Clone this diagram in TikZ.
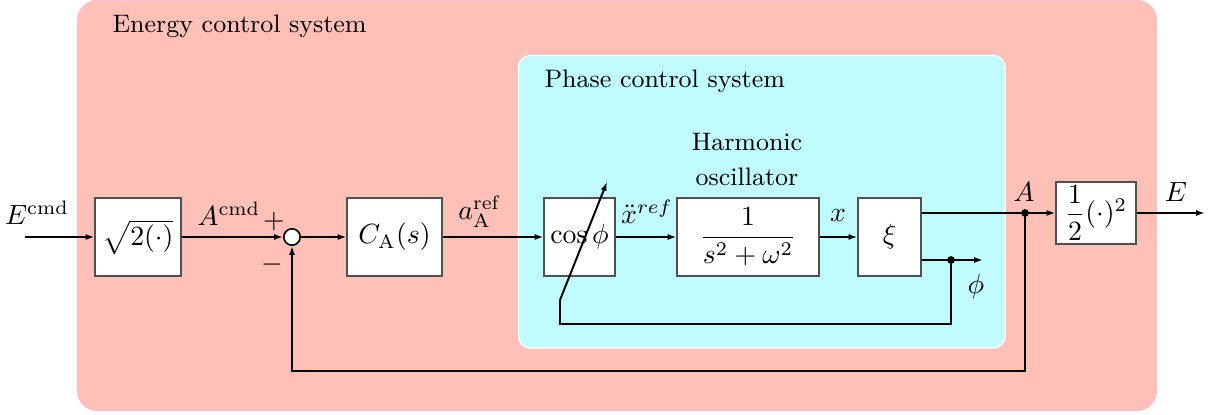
\documentclass[tikz,border=0pt]{standalone}
\usepackage{amsmath}
\usetikzlibrary{arrows.meta}
\definecolor{salmonbg}{RGB}{255,193,183}
\definecolor{pinkedge}{RGB}{255,192,203}
\definecolor{cyanbg}{RGB}{191,251,255}
\definecolor{boxedge}{RGB}{80,80,80}
\tikzset{
  blockbox/.style={draw=boxedge, line width=0.4pt, fill=white, inner sep=0pt, minimum height=28.08pt},
  sig/.style={line width=0.7pt, -{Latex[length=3.2pt,width=2.2pt]}},
  wire/.style={line width=0.7pt},
  lbl/.style={inner sep=0pt},
  ttl/.style={inner sep=0pt, font=\fontsize{9.1}{12.6}\selectfont},
  dotj/.style={circle, fill=black, inner sep=0pt, minimum size=2.8pt}
}
\begin{document}
\begin{tikzpicture}[x=0.36pt,y=-0.36pt]
\useasboundingbox (0,0) rectangle (1225,415);
% backgrounds
\draw[draw=pinkedge, fill=salmonbg, line width=0.5pt, rounded corners=7.2pt] (77.5,0.5) rectangle (1156.5,410.5);
\draw[draw=white, fill=cyanbg, line width=0.5pt, rounded corners=4.3pt] (518.5,55.5) rectangle (1005,348);
\node[ttl, anchor=base west] (tE) at (112,33) {Energy control system};
\node[ttl, anchor=base west] (tP) at (544,88) {Phase control system};
% blocks
\node[blockbox, minimum width=30.96pt] (sq) at (138,237) {$\sqrt{2(\cdot)}$};
\node[circle, draw=black, fill=white, line width=0.6pt, inner sep=0pt, minimum size=5.9pt] (sum) at (292,237) {};
\node[blockbox, minimum width=34.2pt] (CA) at (394.5,237) {$C_\mathrm{A}(s)$};
\node[blockbox, minimum width=25.56pt] (cs) at (579.5,237) {$\cos\phi$};
\node[blockbox, minimum width=51.1pt] (ho) at (748,237) {$\dfrac{1}{s^2+\omega^2}$};
\node[blockbox, minimum width=22.7pt] (xi) at (889.5,237) {$\xi$};
\node[blockbox, minimum width=28.8pt, minimum height=22.3pt] (half) at (1096,213) {$\dfrac{1}{2}(\cdot)^2$};
\node[ttl, align=center] (hol) at (747,160) {Harmonic\\oscillator};
% coordinates
\coordinate (ein) at (25,237);
\coordinate (jA) at (1025,213);
\coordinate (jP) at (951,260);
\coordinate (pout) at (983,260);
\coordinate (eout) at (1205,213);
\coordinate (fb) at (292,371);
\coordinate (pb) at (560,324);
\coordinate (ps) at (560,300);
\coordinate (pe) at (607,182);
% labels
\node[lbl] (lEc) at (37,213) {$E^\mathrm{cmd}$};
\node[lbl] (lAc) at (229,214) {$A^\mathrm{cmd}$};
\node[lbl] (lp) at (274,222) {$+$};
\node[lbl] (lm) at (272,265) {$-$};
\node[lbl] (la) at (480,212) {$a^\mathrm{ref}_\mathrm{A}$};
\node[lbl] (lx) at (647,212) {$\ddot{x}^{ref}$};
\node[lbl] (lxx) at (838,216) {$x$};
\node[lbl] (lA) at (1024,192) {$A$};
\node[lbl] (lE) at (1176,192) {$E$};
\node[lbl] (lph) at (976,287) {$\phi$};
% connectors
\draw[sig] (ein) -- (sq);
\draw[sig] (sq) -- (sum);
\draw[sig] (sum) -- (CA);
\draw[sig] (CA) -- (cs);
\draw[sig] (cs) -- (ho);
\draw[sig] (ho) -- (xi);
\draw[wire] (xi.east |- jA) -- (jA);
\draw[sig] (jA) -- (half);
\draw[sig] (half) -- (eout);
\draw[sig] (xi.east |- jP) -- (pout);
\draw[sig] (jA) |- (fb) -- (sum);
\draw[wire] (jP) |- (pb) -- (ps);
\draw[sig] (ps) -- (pe);
\node[dotj] (dA) at (jA) {};
\node[dotj] (dP) at (jP) {};
\end{tikzpicture}
\end{document}
